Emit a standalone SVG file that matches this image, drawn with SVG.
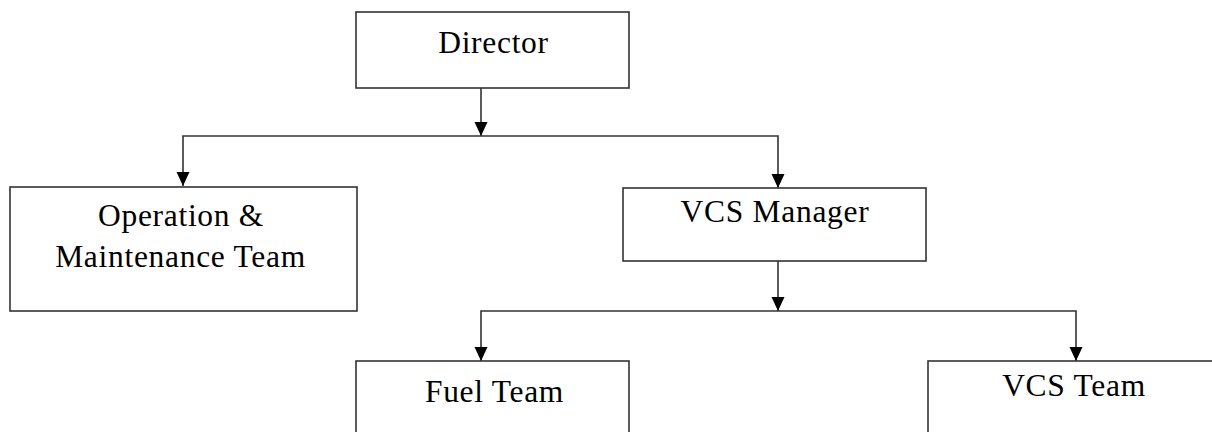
<svg xmlns="http://www.w3.org/2000/svg" width="1212" height="432" viewBox="0 0 1212 432">
<style>
.box{fill:#fff;stroke:#333;stroke-width:1.6}
.t{font-family:"Liberation Serif","Times New Roman",serif;font-size:31.5px;letter-spacing:0.7px;fill:#000;text-anchor:middle}
.c{fill:none;stroke:#333;stroke-width:1.6}
.ah{fill:#000}
</style>
<rect width="1212" height="432" fill="#fff"/>
<g id="connectors">
<line class="c" x1="481" y1="88" x2="481" y2="136"/>
<polygon class="ah" points="474.5,122 487.5,122 481,136"/>
<polyline class="c" points="183,186 183,136 778,136 778,188"/>
<polygon class="ah" points="176.5,172 189.5,172 183,186"/>
<polygon class="ah" points="771.5,174 784.5,174 778,188"/>
<line class="c" x1="778" y1="261" x2="778" y2="311"/>
<polygon class="ah" points="771.5,297 784.5,297 778,311"/>
<polyline class="c" points="481,361 481,311 1076,311 1076,361"/>
<polygon class="ah" points="474.5,347 487.5,347 481,361"/>
<polygon class="ah" points="1069.5,347 1082.5,347 1076,361"/>
</g>
<g id="director">
<rect class="box" x="356" y="12" width="273" height="76"/>
<text class="t" x="493.5" y="53">Director</text>
</g>
<g id="om-team">
<rect class="box" x="10" y="187" width="347" height="124"/>
<text class="t" x="181" y="226">Operation &amp;</text>
<text class="t" x="180.5" y="267">Maintenance Team</text>
</g>
<g id="vcs-manager">
<rect class="box" x="623" y="188" width="303" height="73"/>
<text class="t" x="775" y="222">VCS Manager</text>
</g>
<g id="fuel-team">
<rect class="box" x="356" y="361" width="273" height="80"/>
<text class="t" x="494.5" y="402">Fuel Team</text>
</g>
<g id="vcs-team">
<rect class="box" x="928" y="361" width="300" height="80"/>
<text class="t" x="1074" y="396">VCS Team</text>
</g>
</svg>
